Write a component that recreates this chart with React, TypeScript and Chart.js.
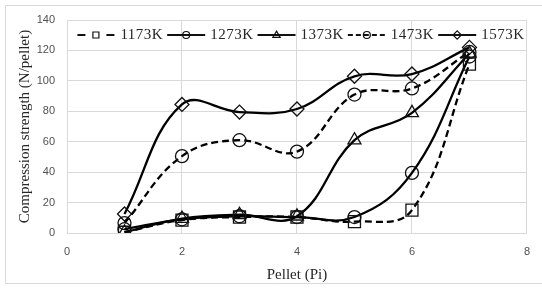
import React, { useEffect, useRef } from "react";
import { Chart, registerables } from "chart.js";

Chart.register(...registerables);

const pellets = [1, 2, 3, 4, 5, 6, 7];
const seriesLabels = ["1173K", "1273K", "1373K", "1473K", "1573K"];
const s1173 = [0.5, 8.5, 10.5, 10.5, 7.5, 15, 111];
const s1273 = [2.5, 9, 11, 10.5, 10.5, 39.5, 116];
const s1373 = [0.5, 9.5, 12, 11, 61, 79, 118];
const s1473 = [6.5, 50.5, 61, 53.5, 91, 95, 119];
const s1573 = [12.5, 84.5, 79.5, 81.5, 103, 104.5, 122];
const xTicks = [0, 2, 4, 6, 8];
const yTicks = [0, 20, 40, 60, 80, 100, 120, 140];

const seriesValues = [s1173, s1273, s1373, s1473, s1573];
const pointStyles = ["rect", "circle", "triangle", "circle", "rectRot"];
const pointRadii = [8.5, 6.5, 7.5, 6.5, 7];
const dashed = [true, false, false, true, false];

const framePlugin = {
  id: "frame",
  beforeDraw(chart: any) {
    const ctx = chart.ctx;
    ctx.save();
    ctx.fillStyle = "#ffffff";
    ctx.fillRect(0, 0, chart.width, chart.height);
    ctx.strokeStyle = "#d9d9d9";
    ctx.lineWidth = 1;
    ctx.beginPath();
    ctx.moveTo(chart.width, 5.5);
    ctx.lineTo(5.5, 5.5);
    ctx.lineTo(5.5, 283.5);
    ctx.lineTo(chart.width, 283.5);
    ctx.stroke();
    ctx.restore();
  },
};

function drawMarker(ctx: CanvasRenderingContext2D, style: string, cx: number, cy: number, r: number) {
  ctx.beginPath();
  if (style === "rect") {
    ctx.rect(cx - r, cy - r, 2 * r, 2 * r);
  } else if (style === "circle") {
    ctx.arc(cx, cy, r, 0, Math.PI * 2);
  } else if (style === "triangle") {
    ctx.moveTo(cx, cy - r * 1.1);
    ctx.lineTo(cx + r * 1.05, cy + r * 0.7);
    ctx.lineTo(cx - r * 1.05, cy + r * 0.7);
    ctx.closePath();
  } else if (style === "rectRot") {
    ctx.moveTo(cx, cy - r * 1.2);
    ctx.lineTo(cx + r * 1.2, cy);
    ctx.lineTo(cx, cy + r * 1.2);
    ctx.lineTo(cx - r * 1.2, cy);
    ctx.closePath();
  }
  ctx.stroke();
}

const legendPlugin = {
  id: "excelLegend",
  afterDraw(chart: any) {
    const ctx: any = chart.ctx;
    const ds = chart.data.datasets;
    ctx.save();
    ctx.font = '15px "Liberation Serif"';
    try {
      ctx.letterSpacing = "0.5px";
    } catch (e) {}
    const symW = 38;
    const gapT = 5;
    const gapI = 4;
    const widths = ds.map((d: any) => symW + gapT + ctx.measureText(d.label).width);
    const total = widths.reduce((a: number, b: number) => a + b, 0) + gapI * (ds.length - 1);
    const ca = chart.chartArea;
    let x = (ca.left + ca.right) / 2 + 4 - total / 2;
    const y = ca.top + 15;
    ds.forEach((d: any, i: number) => {
      ctx.strokeStyle = "#111";
      ctx.lineWidth = 2;
      ctx.beginPath();
      if (i === 0) {
        ctx.moveTo(x, y);
        ctx.lineTo(x + 8, y);
        ctx.moveTo(x + 29, y);
        ctx.lineTo(x + 37, y);
        ctx.stroke();
      } else if (d.borderDash && d.borderDash.length) {
        ctx.setLineDash([5, 3]);
        ctx.moveTo(x, y);
        ctx.lineTo(x + symW, y);
        ctx.stroke();
        ctx.setLineDash([]);
      } else {
        ctx.moveTo(x, y);
        ctx.lineTo(x + symW, y);
        ctx.stroke();
      }
      ctx.lineWidth = 1.2;
      const mx = i === 0 ? x + 18.5 : x + symW / 2;
      drawMarker(ctx, d.pointStyle, mx, y, d.pointStyle === "rect" ? 3 : 3.5);
      ctx.fillStyle = "#262626";
      ctx.textBaseline = "middle";
      ctx.textAlign = "left";
      ctx.fillText(d.label, x + symW + gapT, y);
      x += widths[i] + gapI;
    });
    ctx.restore();
  },
};

export default function App() {
  const canvasRef = useRef<HTMLCanvasElement | null>(null);

  useEffect(() => {
    document.body.style.margin = "0";
    const canvas = canvasRef.current;
    if (!canvas) return;
    const datasets = seriesLabels.map((label, i) => ({
      label,
      data: pellets.map((p, j) => ({ x: p, y: seriesValues[i][j] })),
      borderColor: "#000000",
      borderWidth: 2.3,
      borderDash: dashed[i] ? [7, 4] : [],
      tension: 0.4,
      fill: false,
      pointStyle: pointStyles[i],
      pointRadius: pointRadii[i],
      pointBorderColor: "#111111",
      pointBackgroundColor: "rgba(0,0,0,0)",
      pointBorderWidth: 1.3,
    }));
    const chart = new Chart(canvas, {
      type: "line",
      data: { datasets },
      options: {
        animation: false,
        responsive: false,
        maintainAspectRatio: false,
        layout: { padding: { top: 20, right: 14, bottom: 0, left: 0 } },
        plugins: { legend: { display: false }, tooltip: { enabled: false } },
        scales: {
          x: {
            type: "linear",
            min: 0,
            max: 8,
            afterFit: (s: any) => {
              s.height = 55;
            },
            afterBuildTicks: (s: any) => {
              s.ticks = xTicks.map((v) => ({ value: v }));
            },
            ticks: {
              padding: 12,
              color: "#505050",
              font: { family: '"Liberation Sans"', size: 11 },
            },
            grid: { color: "#d9d9d9", drawTicks: false, lineWidth: 1 },
            border: { color: "#d9d9d9" },
            title: {
              display: true,
              text: "Pellet (Pi)",
              color: "#262626",
              font: { family: '"Liberation Serif"', size: 15 },
              padding: { top: 0, bottom: 4 },
            },
          },
          y: {
            type: "linear",
            min: 0,
            max: 140,
            afterFit: (s: any) => {
              s.width = 67;
            },
            afterBuildTicks: (s: any) => {
              s.ticks = yTicks.map((v) => ({ value: v }));
            },
            ticks: {
              padding: 12,
              color: "#505050",
              font: { family: '"Liberation Sans"', size: 11 },
            },
            grid: { color: "#d9d9d9", drawTicks: false, lineWidth: 1 },
            border: { color: "#d9d9d9" },
            title: {
              display: true,
              text: "Compression strength (N/pellet)",
              color: "#262626",
              font: { family: '"Liberation Serif"', size: 15 },
              padding: { top: 16, bottom: 0 },
            },
          },
        },
      },
      plugins: [framePlugin, legendPlugin],
    });
    return () => chart.destroy();
  }, []);

  return (
    <div style={{ width: 542, height: 288, position: "relative" }}>
      <canvas ref={canvasRef} width={542} height={288} style={{ display: "block" }} />
    </div>
  );
}
